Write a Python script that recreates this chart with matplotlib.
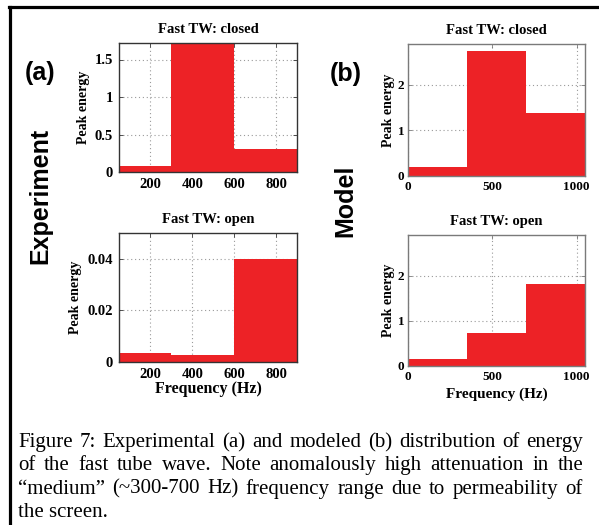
import matplotlib
matplotlib.use('Agg')
import matplotlib.pyplot as plt
from matplotlib.lines import Line2D

# Experiment (a): frequency band edges (Hz) and peak energy per band
exp_edges = [50, 300, 600, 900]
exp_closed = [0.08, 1.72, 0.31]
exp_open = [0.0036, 0.0027, 0.040]

# Model (b)
mod_edges = [0, 350, 700, 1050]
mod_closed = [0.20, 2.75, 1.38]
mod_open = [0.15, 0.73, 1.82]

caption_lines = [
    "Figure 7: Experimental (a) and modeled (b) distribution of energy",
    "of the fast tube wave. Note anomalously high attenuation in the",
    "\u201cmedium\u201d (~300-700 Hz) frequency range due to permeability of",
    "the screen.",
]

RED = '#ed2226'
SERIF = 'Liberation Serif'
SANS = 'Liberation Sans'
W, H = 599, 525


def box(left, top, right, bottom):
    """pixel box -> figure fraction rect"""
    return [left / W, 1 - bottom / H, (right - left) / W, (bottom - top) / H]


def panel(ax, edges, values, ylim, xticks, yticks, ylabels, title,
          tick_fs, label_x, spine_col, xlabel=None, xlabel_fs=11, xpad=0):
    widths = [b - a for a, b in zip(edges[:-1], edges[1:])]
    ax.bar(edges[:-1], values, width=widths, align='edge', color=RED,
           edgecolor='none', zorder=2)
    ax.set_xlim(edges[0], edges[-1])
    ax.set_ylim(*ylim)
    ax.set_xticks(xticks)
    ax.set_xticklabels([str(t) for t in xticks])
    ax.set_yticks(yticks)
    ax.set_yticklabels(ylabels)
    ax.grid(True, linestyle=(0, (1, 2.5)), color='#9a9a9a', linewidth=0.8,
            zorder=1)
    ax.set_axisbelow(True)
    ax.tick_params(direction='in', length=3, width=0.6, color=spine_col,
                   top=True, right=True, pad=4.5)
    for lab in ax.get_xticklabels() + ax.get_yticklabels():
        lab.set_fontfamily(SERIF)
        lab.set_fontweight('bold')
        lab.set_fontsize(tick_fs)
    for s in ax.spines.values():
        s.set_color(spine_col)
        s.set_linewidth(1.0)
    ax.set_title(title, fontfamily=SERIF, fontweight='bold', fontsize=10.5,
                 pad=7)
    ax.set_ylabel('Peak energy', fontfamily=SERIF, fontweight='bold',
                  fontsize=10)
    ax.yaxis.set_label_coords(label_x, 0.5)
    if xlabel:
        ax.set_xlabel(xlabel, fontfamily=SERIF, fontweight='bold',
                      fontsize=xlabel_fs, labelpad=xpad)


fig = plt.figure(figsize=(W / 100, H / 100), dpi=100)

ax1 = fig.add_axes(box(119, 43, 297, 172))
panel(ax1, exp_edges, exp_closed, (0, 1.72), [200, 400, 600, 800],
      [0, 0.5, 1, 1.5], ['0', '0.5', '1', '1.5'], 'Fast TW: closed',
      10.5, -0.165, '#333333')

ax2 = fig.add_axes(box(119, 233, 297, 362))
panel(ax2, exp_edges, exp_open, (0, 0.05), [200, 400, 600, 800],
      [0, 0.02, 0.04], ['0', '0.02', '0.04'], 'Fast TW: open',
      10.5, -0.21, '#333333', xlabel='Frequency (Hz)', xlabel_fs=11.5,
      xpad=-0.5)

ax3 = fig.add_axes(box(408, 44, 585, 176))
panel(ax3, mod_edges, mod_closed, (0, 2.9), [0, 500, 1000], [0, 1, 2],
      ['0', '1', '2'], 'Fast TW: closed', 9.5, -0.075, '#7a7a7a')

ax4 = fig.add_axes(box(408, 235, 585, 366))
panel(ax4, mod_edges, mod_open, (0, 2.9), [0, 500, 1000], [0, 1, 2],
      ['0', '1', '2'], 'Fast TW: open', 9.5, -0.075, '#7a7a7a',
      xlabel='Frequency (Hz)', xlabel_fs=11, xpad=3)
for ax in (ax3, ax4):
    ax.tick_params(axis='y', pad=2.5)
    ax.tick_params(axis='x', pad=3.5)

# panel letters and row labels
fig.text(40 / W, 1 - 73 / H, '(a)', fontfamily=SANS, fontweight='bold',
         fontsize=18, ha='center', va='center')
fig.text(346 / W, 1 - 74 / H, '(b)', fontfamily=SANS, fontweight='bold',
         fontsize=18, ha='center', va='center')
fig.text(40 / W, 1 - 196 / H, 'Experiment', fontfamily=SANS,
         fontweight='bold', fontsize=18, rotation=90, ha='center',
         va='center')
fig.text(345 / W, 1 - 201 / H, 'Model', fontfamily=SANS, fontweight='bold',
         fontsize=18, rotation=90, ha='center', va='center')

# black frame on the left and top
fig.add_artist(Line2D([10 / W, 10 / W], [0, 1 - 6.5 / H], color='black',
                      linewidth=2.3, transform=fig.transFigure))
fig.add_artist(Line2D([9 / W, 1], [1 - 6.5 / H, 1 - 6.5 / H],
                      color='black', linewidth=2.3,
                      transform=fig.transFigure))

# justified caption
renderer = fig.canvas.get_renderer()
cap_left, cap_right = 18, 583
baseline = 447
for i, line in enumerate(caption_lines):
    words = line.split(' ')
    y = 1 - baseline / H
    if i == len(caption_lines) - 1:
        fig.text(cap_left / W, y, line, fontfamily=SERIF, fontsize=15,
                 va='baseline')
    else:
        texts = [fig.text(0, y, w, fontfamily=SERIF, fontsize=15,
                          va='baseline') for w in words]
        widths = [t.get_window_extent(renderer).width for t in texts]
        gap = (cap_right - cap_left - sum(widths)) / (len(words) - 1)
        x = cap_left
        for t, w in zip(texts, widths):
            t.set_x(x / W)
            x += w + gap
    baseline += 23.3

fig.savefig('out.png', dpi=100)
